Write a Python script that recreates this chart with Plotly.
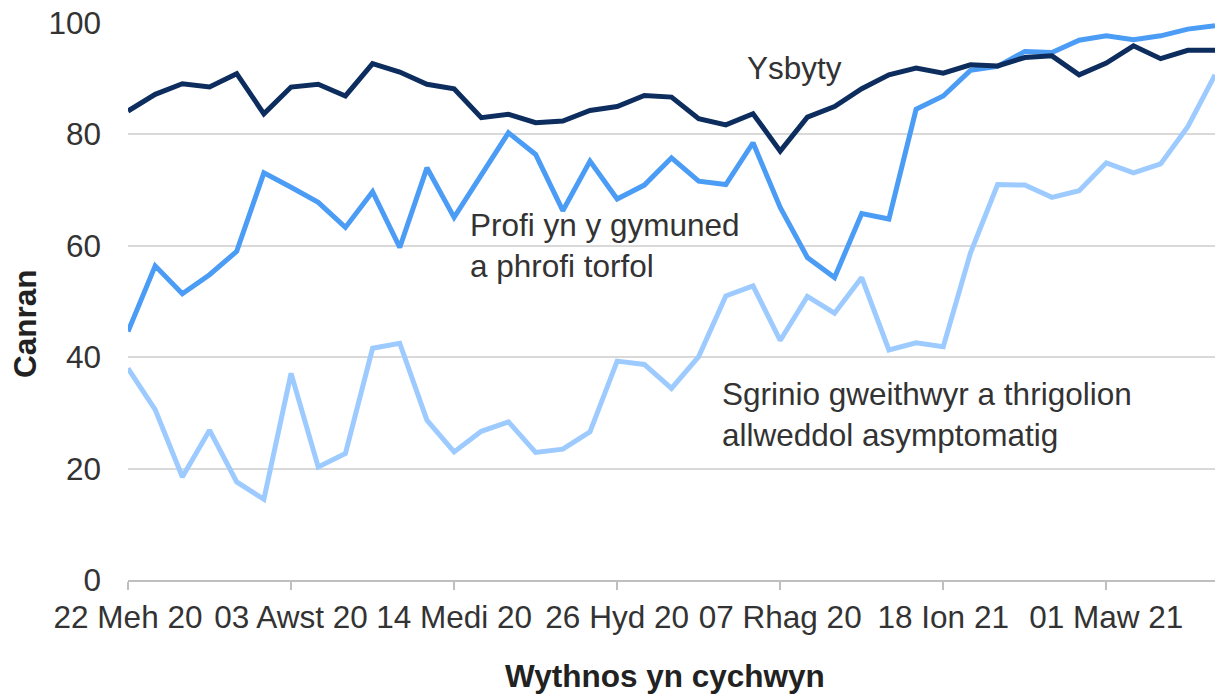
import pandas as pd
import plotly.graph_objects as go

# Weekly periods (week starting), 22 Jun 2020 onwards
weeks = pd.date_range("2020-06-22", periods=41, freq="7D").strftime("%Y-%m-%d").tolist()

tick_dates = ["2020-06-22", "2020-08-03", "2020-09-14", "2020-10-26",
              "2020-12-07", "2021-01-18", "2021-03-01"]
tick_labels = ["22 Meh 20", "03 Awst 20", "14 Medi 20", "26 Hyd 20",
               "07 Rhag 20", "18 Ion 21", "01 Maw 21"]

ysbyty = [84.2, 87.2, 89.1, 88.5, 90.9, 83.7, 88.5, 89.0, 86.9, 92.7,
          91.2, 89.0, 88.2, 83.0, 83.6, 82.1, 82.4, 84.3, 85.0, 87.0,
          86.7, 82.8, 81.7, 83.7, 77.0, 83.1, 85.0, 88.2, 90.7, 91.9,
          91.0, 92.5, 92.3, 93.8, 94.1, 90.7, 92.8, 95.9, 93.6, 95.1, 95.1]

profi = [44.6, 56.4, 51.4, 54.8, 59.0, 73.1, 70.5, 67.8, 63.3, 69.7,
         59.7, 74.0, 65.1, 72.6, 80.3, 76.4, 66.3, 75.2, 68.4, 70.9,
         75.8, 71.6, 71.0, 78.5, 66.9, 57.9, 54.3, 65.8, 64.8, 84.5,
         86.9, 91.5, 92.2, 94.9, 94.7, 96.9, 97.7, 97.0, 97.7, 98.9, 99.5]

sgrinio = [38.0, 30.6, 18.5, 26.9, 17.6, 14.5, 37.1, 20.3, 22.7, 41.6,
           42.5, 28.7, 23.0, 26.7, 28.4, 22.9, 23.5, 26.6, 39.3, 38.7,
           34.4, 40.1, 51.0, 52.8, 43.0, 50.9, 47.9, 54.3, 41.3, 42.6,
           41.9, 58.7, 71.0, 70.9, 68.7, 69.9, 74.9, 73.1, 74.7, 81.4, 90.7]

series_names = ["Ysbyty", "Profi yn y gymuned a phrofi torfol",
                "Sgrinio gweithwyr a thrigolion allweddol asymptomatig"]
colors = ["#0C2D5E", "#4B9CF5", "#9DCBFF"]

FONT = "Liberation Sans, Arial, sans-serif"
TXT = "#333333"
FS = 31.5

fig = go.Figure()
order = [(series_names[2], sgrinio, colors[2]),
         (series_names[1], profi, colors[1]),
         (series_names[0], ysbyty, colors[0])]
for name, vals, col in order:
    fig.add_trace(go.Scatter(x=weeks, y=vals, mode="lines", name=name,
                             line=dict(color=col, width=5, shape="linear"),
                             showlegend=False))

fig.update_layout(
    width=1216, height=696,
    margin=dict(l=128, r=1, t=23, b=116, autoexpand=False),
    paper_bgcolor="white", plot_bgcolor="white",
    font=dict(family=FONT, size=FS, color=TXT),
    xaxis=dict(
        type="date", automargin=False,
        range=["2020-06-22", "2021-03-29"],
        tickvals=tick_dates, ticktext=tick_labels,
        showgrid=False, zeroline=False,
        showline=True, linecolor="#bfbfbf", linewidth=2,
        ticks="outside", ticklen=8, tickcolor="#bfbfbf", tickwidth=2,
        tickfont=dict(family=FONT, size=FS, color=TXT),
        ticklabelstandoff=0,
    ),
    yaxis=dict(
        automargin=False,
        range=[0, 100], tickvals=[0, 20, 40, 60, 80, 100],
        showgrid=True, gridcolor="#d9d9d9", gridwidth=2,
        zeroline=False, showline=False, ticks="",
        tickfont=dict(family=FONT, size=FS, color=TXT),
        ticklabelstandoff=26,
    ),
)

ann = dict(showarrow=False, font=dict(family=FONT, size=FS, color=TXT))
fig.add_annotation(text="Ysbyty", xref="paper", yref="y", x=0.5676, y=91.9,
                   xanchor="left", yanchor="middle", **ann)
fig.add_annotation(text="Profi yn y gymuned<br>a phrofi torfol", xref="paper", yref="y",
                   x=0.3128, y=60.0, xanchor="left", yanchor="middle", align="left", **ann)
fig.add_annotation(text="Sgrinio gweithwyr a thrigolion<br>allweddol asymptomatig",
                   xref="paper", yref="y", x=0.5446, y=29.8,
                   xanchor="left", yanchor="middle", align="left", **ann)
fig.add_annotation(text="<b>Canran</b>", xref="paper", yref="paper", x=-0.0948, y=0.4614,
                   xanchor="center", yanchor="middle", textangle=-90,
                   showarrow=False, font=dict(family=FONT, size=FS, color="#222222"))
fig.add_annotation(text="<b>Wythnos yn cychwyn</b>", xref="paper", yref="paper",
                   x=0.494, y=-0.1724, xanchor="center", yanchor="middle",
                   borderpad=0,
                   showarrow=False, font=dict(family=FONT, size=FS, color="#222222"))

fig.write_html("out.html", config={"displayModeBar": False},
               post_script="document.body.style.margin='0';document.body.style.overflow='hidden';")
